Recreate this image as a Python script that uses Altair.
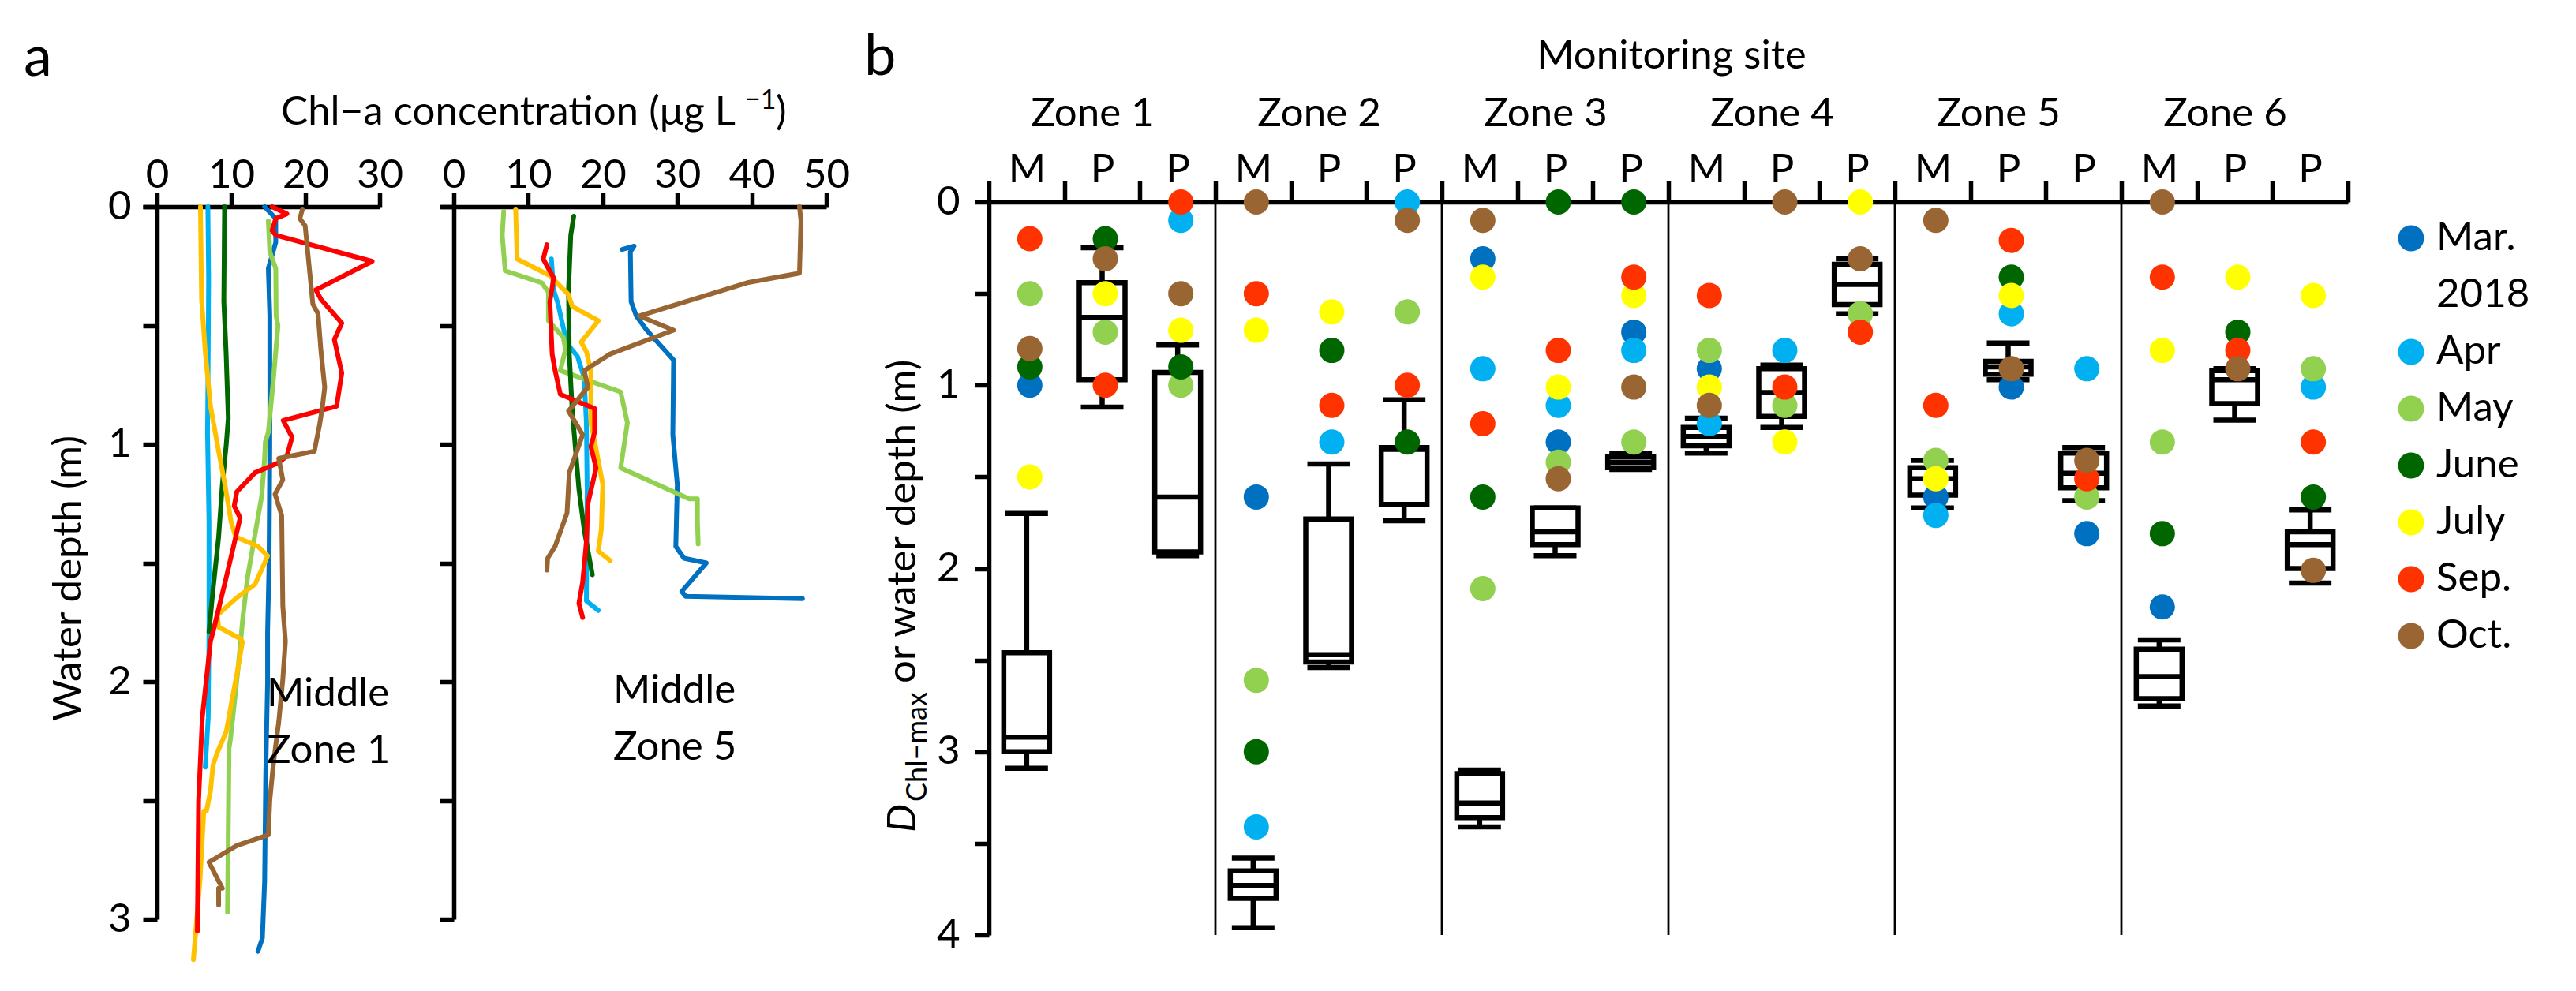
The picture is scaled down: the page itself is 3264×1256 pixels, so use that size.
import altair as alt
import pandas as pd

FONT = "Lato"
FS = 51

MONTHS = ["Mar", "Apr", "May", "June", "July", "Sep", "Oct"]
COLORS_A = ["#0070C0", "#00B0F0", "#92D050", "#006600", "#FFC000", "#FF0000", "#996633"]
COLORS_B = ["#0070C0", "#00B0F0", "#92D050", "#006600", "#FFFF00", "#FF3300", "#996633"]

# ---- Panel a: Chl-a profiles (concentration ug/L, depth m) ----
Z1_MAR = [(14.5, 0.0), (16.0, 0.05), (16.0, 0.15), (15.0, 0.26), (15.2, 0.46), (15.2, 1.0), (15.1, 1.5),
          (14.9, 1.79), (14.9, 2.0), (14.65, 2.39), (14.5, 2.84), (14.2, 3.08), (13.6, 3.135)]
Z1_APR = [(6.85, 0.0), (6.95, 0.3), (6.9, 0.6), (6.8, 0.95), (7.0, 1.33), (7.0, 1.79), (6.9, 2.15), (6.5, 2.36)]
Z1_MAY = [(15.0, 0.06), (15.2, 0.19), (16.0, 0.26), (16.05, 0.46), (16.3, 0.5), (15.7, 0.72), (15.0, 0.95),
          (14.6, 0.99), (14.5, 1.06), (14.1, 1.22), (12.2, 1.56), (11.6, 1.72), (10.9, 1.95), (9.9, 2.24),
          (9.7, 2.28), (9.5, 2.97)]
Z1_JUN = [(9.1, 0.0), (9.0, 0.4), (9.3, 0.61), (9.6, 0.89), (9.33, 1.0), (8.8, 1.17), (8.3, 1.39), (7.55, 1.61),
          (7.0, 1.79)]
Z1_JUL = [(5.85, 0.0), (6.0, 0.39), (6.5, 0.61), (7.2, 0.84), (8.3, 1.03), (9.15, 1.17), (10.0, 1.33),
          (10.6, 1.39), (13.6, 1.43), (14.9, 1.47), (14.5, 1.5), (13.2, 1.59), (10.8, 1.645), (8.1, 1.72),
          (8.3, 1.77), (11.3, 1.82), (11.5, 1.834), (10.75, 1.97), (10.2, 2.06), (9.33, 2.21), (8.1, 2.30),
          (7.55, 2.35), (7.2, 2.46), (6.66, 2.545), (6.3, 2.545), (5.8, 2.83), (4.9, 3.17)]
Z1_SEP = [(15.5, 0.0), (17.5, 0.03), (16.0, 0.05), (15.5, 0.1), (16.0, 0.12), (29.0, 0.23), (21.4, 0.35),
          (22.1, 0.39), (24.9, 0.49), (23.9, 0.56), (24.9, 0.70), (24.2, 0.84), (17.0, 0.90), (18.2, 0.97),
          (17.5, 1.05), (16.25, 1.08), (13.2, 1.12), (10.75, 1.2), (10.4, 1.26), (11.2, 1.31), (9.33, 1.56),
          (7.55, 1.79), (7.2, 1.83), (6.1, 2.15), (5.6, 2.5), (5.43, 3.05)]
Z1_OCT = [(19.6, 0.01), (19.25, 0.05), (19.96, 0.08), (21.0, 0.41), (21.7, 0.45), (22.1, 0.61), (22.6, 0.76),
          (22.3, 0.84), (21.9, 0.92), (21.2, 1.03), (16.4, 1.06), (16.95, 1.15), (15.9, 1.21), (16.8, 1.30),
          (16.95, 1.68), (17.3, 1.83), (16.95, 1.99), (16.4, 2.17), (15.7, 2.34), (15.2, 2.5), (15.0, 2.645),
          (10.75, 2.69), (7.0, 2.76), (8.8, 2.87), (8.3, 2.87), (8.3, 2.94)]

Z5_MAR = [(22.6, 0.18), (24.2, 0.166), (23.7, 0.19), (23.8, 0.40), (24.5, 0.46), (25.9, 0.52), (29.5, 0.645),
          (29.4, 0.96), (30.0, 1.17), (29.8, 1.43), (30.9, 1.48), (33.9, 1.50), (30.6, 1.62), (31.1, 1.64),
          (46.8, 1.65)]
Z5_APR = [(13.1, 0.22), (13.4, 0.35), (14.0, 0.41), (14.7, 0.51), (15.3, 0.58), (16.6, 0.63), (17.5, 0.72),
          (17.8, 0.91), (17.9, 1.19), (17.8, 1.66), (19.4, 1.70)]
Z5_MAY = [(6.7, 0.02), (6.5, 0.12), (6.9, 0.27), (11.8, 0.32), (12.7, 0.36), (12.7, 0.48), (14.7, 0.55),
          (15.0, 0.60), (14.3, 0.69), (22.4, 0.78), (23.3, 0.91), (22.4, 1.1), (31.6, 1.23), (32.7, 1.23),
          (32.7, 1.32), (32.8, 1.42)]
Z5_JUN = [(16.1, 0.04), (15.7, 0.12), (15.4, 0.35), (15.5, 0.62), (15.9, 0.86), (16.8, 1.19), (17.5, 1.36),
          (18.6, 1.55)]
Z5_JUL = [(8.3, 0.01), (8.5, 0.22), (12.9, 0.29), (15.4, 0.37), (15.9, 0.42), (19.4, 0.48), (17.1, 0.57),
          (17.8, 0.61), (18.4, 0.69), (18.4, 0.91), (19.1, 1.02), (20.0, 1.17), (19.8, 1.36), (19.4, 1.45),
          (21.0, 1.49)]
Z5_SEP = [(12.5, 0.16), (12.0, 0.22), (13.4, 0.30), (12.9, 0.40), (13.2, 0.62), (13.6, 0.69), (14.3, 0.79),
          (18.9, 0.85), (18.9, 0.95), (18.4, 1.01), (19.1, 1.1), (18.0, 1.25), (17.8, 1.41), (17.3, 1.58),
          (16.8, 1.67), (17.3, 1.73)]
Z5_OCT = [(46.4, 0.0), (46.6, 0.06), (46.4, 0.28), (39.4, 0.32), (24.9, 0.46), (29.5, 0.52), (21.0, 0.62),
          (17.5, 0.69), (18.0, 0.76), (15.4, 0.86), (17.3, 0.96), (15.5, 1.12), (15.2, 1.29), (13.6, 1.43),
          (12.6, 1.48), (12.5, 1.53)]

A_X1_TICKS = [0, 10, 20, 30]
A_X2_TICKS = [0, 10, 20, 30, 40, 50]
A_Y_TICKS = [0, 0.5, 1, 1.5, 2, 2.5, 3]

# ---- Panel b: depth of Chl-a maximum per site ----
SITES = ["Z1M", "Z1P1", "Z1P2", "Z2M", "Z2P1", "Z2P2", "Z3M", "Z3P1", "Z3P2",
         "Z4M", "Z4P1", "Z4P2", "Z5M", "Z5P1", "Z5P2", "Z6M", "Z6P1", "Z6P2"]
ZONE_LABELS = ["Zone 1", "Zone 2", "Zone 3", "Zone 4", "Zone 5", "Zone 6"]
ZONE_MID = ["Z1P1", "Z2P1", "Z3P1", "Z4P1", "Z5P1", "Z6P1"]
ZONE_EDGES = ["Z1P2", "Z2P2", "Z3P2", "Z4P2", "Z5P2"]

D_MAR = [1.0, None, None, 1.61, None, None, 0.31, 1.31, 0.71, 0.91, None, None, 1.61, 1.01, 1.81, 2.21, None, None]
D_APR = [None, None, 0.1, 3.41, 1.31, 0.0, 0.91, 1.11, 0.81, 1.21, 0.81, None, 1.71, 0.61, 0.91, None, None, 1.01]
D_MAY = [0.5, 0.71, 1.0, 2.61, None, 0.6, 2.11, 1.42, 1.31, 0.81, 1.11, 0.61, 1.41, None, 1.61, 1.31, None, 0.91]
D_JUN = [0.9, 0.2, 0.9, 3.0, 0.81, 1.31, 1.61, 0.0, 0.0, None, None, None, None, 0.41, None, 1.81, 0.71, 1.61]
D_JUL = [1.5, 0.5, 0.7, 0.7, 0.6, None, 0.41, 1.01, 0.51, 1.01, 1.31, 0.0, 1.51, 0.51, None, 0.81, 0.41, 0.51]
D_SEP = [0.2, 1.0, 0.0, 0.5, 1.11, 1.0, 1.21, 0.81, 0.41, 0.51, 1.01, 0.71, 1.11, 0.21, 1.51, 0.41, 0.81, 1.31]
D_OCT = [0.8, 0.31, 0.5, 0.0, None, 0.1, 0.1, 1.51, 1.01, 1.11, 0.0, 0.31, 0.1, 0.91, 1.41, 0.0, 0.91, 2.01]

BOX_LO = [1.70, 0.25, 0.78, 3.58, 1.43, 1.08, 3.10, 1.67, 1.37, 1.18, 0.89, 0.31, 1.41, 0.77, 1.34, 2.39, 0.91, 1.68]
BOX_Q1 = [2.46, 0.44, 0.93, 3.65, 1.73, 1.34, 3.12, 1.67, 1.39, 1.23, 0.91, 0.34, 1.45, 0.87, 1.37, 2.44, 0.92, 1.80]
BOX_MED = [2.92, 0.63, 1.61, 3.73, 2.47, 1.35, 3.28, 1.80, 1.42, 1.28, 1.04, 0.45, 1.51, 0.90, 1.48, 2.59, 0.97, 1.87]
BOX_Q3 = [3.00, 0.97, 1.91, 3.80, 2.51, 1.65, 3.36, 1.87, 1.45, 1.33, 1.17, 0.56, 1.60, 0.94, 1.56, 2.71, 1.10, 2.00]
BOX_HI = [3.09, 1.12, 1.93, 3.96, 2.54, 1.74, 3.41, 1.93, 1.46, 1.37, 1.23, 0.61, 1.67, 0.97, 1.63, 2.75, 1.19, 2.08]
B_Y_TICKS = [0, 0.5, 1, 1.5, 2, 2.5, 3, 3.5, 4]

LEGEND_LABELS = ["Mar.", "Apr", "May", "June", "July", "Sep.", "Oct."]
LEGEND_ROWS = [0, 2, 3, 4, 5, 6, 7]
LEGEND_EXTRA = ["2018"]
LEGEND_EXTRA_ROWS = [1]

# ---- text ----
TXT_A = ["a"]
TXT_B = ["b"]
TITLE_A = ["Chl\u2212a concentration (\u03bcg L"]
TITLE_A_SUP = ["\u22121"]
TITLE_A_END = [")"]
YTITLE_A = ["Water depth (m)"]
LABEL_Z1 = ["Middle\nZone 1"]
LABEL_Z5 = ["Middle\nZone 5"]
TITLE_B = ["Monitoring site"]
YTITLE_B_D = ["D"]
YTITLE_B_SUB = ["Chl\u2212max"]
YTITLE_B_REST = ["or water depth (m)"]


def profile_df(profiles):
    rows = []
    for m, pts in zip(MONTHS, profiles):
        for i, (c, d) in enumerate(pts):
            rows.append({"month": m, "conc": c, "depth": d, "idx": i})
    return pd.DataFrame(rows)


AX = dict(domainColor="black", tickColor="black", labelColor="black", labelFont=FONT,
          labelFontSize=FS, grid=False, labelFlush=False, labelOverlap=False, title="")

Y_LABEL_EXPR = "datum.value % 1 === 0 ? format(datum.value, 'd') : ''"
LW = 5.5


def line_panel(df, xdomain, xrange, xticks, yoffset, ylabels):
    yaxis = dict(orient="left", offset=yoffset, values=A_Y_TICKS, tickSize=18, tickWidth=LW,
                 domainWidth=LW, labelPadding=15, **AX)
    if ylabels:
        yaxis["labelExpr"] = Y_LABEL_EXPR
    else:
        yaxis["labels"] = False
    return alt.Chart(df).mark_line(strokeWidth=6, strokeJoin="round", strokeCap="round").encode(
        x=alt.X("conc:Q",
                scale=alt.Scale(domain=xdomain, range=xrange, nice=False, zero=False),
                axis=alt.Axis(orient="top", offset=-254, values=xticks, tickSize=18, tickWidth=LW,
                              domainWidth=LW, labelPadding=-4, format="d", **AX)),
        y=alt.Y("depth:Q",
                scale=alt.Scale(domain=[0, 3], range=[254, 1157], nice=False, zero=False),
                axis=alt.Axis(**yaxis)),
        color=alt.Color("month:N", scale=alt.Scale(domain=MONTHS, range=COLORS_A), legend=None),
        order=alt.Order("idx:Q"),
    )


A_left = line_panel(profile_df([Z1_MAR, Z1_APR, Z1_MAY, Z1_JUN, Z1_JUL, Z1_SEP, Z1_OCT]),
                    [-1.915, 30], [173, 473], A_X1_TICKS, -191, True)
A_right = line_panel(profile_df([Z5_MAR, Z5_APR, Z5_MAY, Z5_JUN, Z5_JUL, Z5_SEP, Z5_OCT]),
                     [-1.8, 50], [550, 1039], A_X2_TICKS, -567, False)

# ---- panel b ----
box_df = pd.DataFrame({"site": SITES, "lo": BOX_LO, "q1": BOX_Q1, "med": BOX_MED, "q3": BOX_Q3, "hi": BOX_HI})
dot_rows = []
for mi, (m, arr) in enumerate(zip(MONTHS, [D_MAR, D_APR, D_MAY, D_JUN, D_JUL, D_SEP, D_OCT])):
    for s, v in zip(SITES, arr):
        if v is not None:
            dot_rows.append({"site": s, "month": m, "depth": v, "mi": mi})
dot_df = pd.DataFrame(dot_rows)
zone_df = pd.DataFrame({"site": ZONE_MID, "label": ZONE_LABELS})
edge_df = pd.DataFrame({"site": ZONE_EDGES})

XB_SCALE = alt.Scale(type="band", domain=SITES, range=[1245, 2967], paddingInner=0, paddingOuter=0)
XB_AXIS = alt.Axis(orient="top", offset=-248, tickBand="extent", tickSize=27, tickWidth=LW,
                   domainWidth=LW, labelPadding=-12, labelAngle=0,
                   labelExpr="substring(datum.label, 2, 3)", **AX)
YB_SCALE = alt.Scale(domain=[0, 4], range=[248, 1177], nice=False, zero=False)
YB_AXIS = alt.Axis(orient="left", offset=-1245, values=B_Y_TICKS, tickSize=18, tickWidth=LW,
                   domainWidth=LW, labelPadding=19, labelExpr=Y_LABEL_EXPR, **AX)

BW = 6.5


def XB(**kw):
    return alt.X("site:N", scale=XB_SCALE, axis=XB_AXIS, **kw)


def YB(field):
    return alt.Y(field, type="quantitative", scale=YB_SCALE, axis=YB_AXIS)


dividers = alt.Chart(edge_df).mark_rule(color="black", strokeWidth=2.8).encode(
    x=XB(bandPosition=1), y=alt.value(248), y2=alt.value(1177))
whisk = alt.Chart(box_df).mark_rule(color="black", strokeWidth=BW).encode(
    x=XB(), y=YB("lo"), y2=alt.Y2("hi"))
boxes = alt.Chart(box_df).mark_bar(width=58, fill="white", stroke="black", strokeWidth=BW).encode(
    x=XB(), y=YB("q1"), y2=alt.Y2("q3"))
meds = alt.Chart(box_df).mark_tick(size=58, thickness=BW, color="black", opacity=1).encode(
    x=XB(), y=YB("med"))
caps_lo = alt.Chart(box_df).mark_tick(size=54, thickness=BW, color="black", opacity=1).encode(
    x=XB(), y=YB("lo"))
caps_hi = alt.Chart(box_df).mark_tick(size=54, thickness=BW, color="black", opacity=1).encode(
    x=XB(), y=YB("hi"))
dots = alt.Chart(dot_df).mark_circle(size=1024, opacity=1, xOffset=4).encode(
    x=XB(), y=YB("depth"),
    color=alt.Color("month:N", scale=alt.Scale(domain=MONTHS, range=COLORS_B), legend=None),
    order=alt.Order("mi:Q"))
zone_txt = alt.Chart(zone_df).mark_text(font=FONT, fontSize=FS, baseline="alphabetic", dx=-12,
                                        color="black").encode(
    x=XB(), y=alt.value(152), text="label:N")

B = alt.layer(dividers, whisk, boxes, meds, caps_lo, caps_hi, dots, zone_txt)

# ---- legend ----
leg_df = pd.DataFrame({"month": MONTHS, "label": LEGEND_LABELS, "row": LEGEND_ROWS})
leg_txt_df = pd.DataFrame({"label": LEGEND_LABELS + LEGEND_EXTRA, "row": LEGEND_ROWS + LEGEND_EXTRA_ROWS})
LY = alt.Y("row:Q", scale=alt.Scale(domain=[0, 7], range=[294, 798], nice=False, zero=False), axis=None)
leg_sym = alt.Chart(leg_df).mark_circle(size=1090, opacity=1).encode(
    x=alt.value(3047), y=LY,
    color=alt.Color("month:N", scale=alt.Scale(domain=MONTHS, range=COLORS_B), legend=None))
leg_lab = alt.Chart(leg_txt_df).mark_text(font=FONT, fontSize=FS, align="left", baseline="middle",
                                          color="black").encode(
    x=alt.value(3079), y=LY, text="label:N")
L = alt.layer(leg_sym, leg_lab)


def txt(values, x, y, size=FS, align="left", baseline="alphabetic", angle=0, style="normal", line_break=False):
    kw = dict(font=FONT, fontSize=size, align=align, baseline=baseline, angle=angle,
              fontStyle=style, color="black")
    if line_break:
        kw["lineBreak"] = "\n"
        kw["lineHeight"] = 72
    return alt.Chart(pd.DataFrame({"t": values})).mark_text(**kw).encode(
        text="t:N", x=alt.value(x), y=alt.value(y))


texts = [
    txt(TXT_A, 22, 88, size=72),
    txt(TXT_B, 1087, 87, size=72),
    txt(TITLE_A, 924, 150, align="right"),
    txt(TITLE_A_SUP, 936, 130, size=34),
    txt(TITLE_A_END, 975, 150),
    txt(YTITLE_A, 95, 725, align="center", angle=270),
    txt(LABEL_Z1, 330, 887, line_break=True),
    txt(LABEL_Z5, 769, 883, line_break=True),
    txt(TITLE_B, 2110, 79, align="center"),
    txt(YTITLE_B_D, 1152, 1047, angle=270, style="italic"),
    txt(YTITLE_B_SUB, 1166, 1008, size=36, angle=270),
    txt(YTITLE_B_REST, 1152, 858, angle=270),
]

chart = alt.layer(A_left, A_right, B, L, *texts).resolve_scale(
    x="independent", y="independent", color="independent"
).properties(
    width=3248, height=1240, autosize=alt.AutoSizeParams(type="none"), padding=0
).configure_view(strokeWidth=0)

chart.save("out.html", embed_options={"renderer": "svg", "actions": False})
